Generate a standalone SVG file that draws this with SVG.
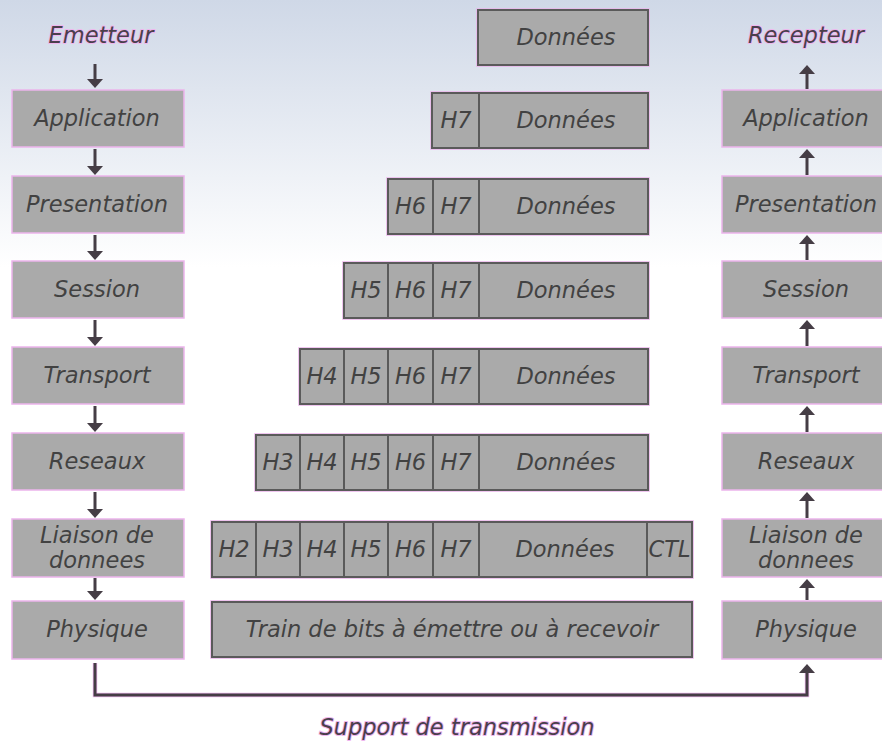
<svg xmlns="http://www.w3.org/2000/svg" width="882" height="742" viewBox="0 0 882 742">
<style>
text{font-family:"DejaVu Sans","Verdana","Liberation Sans",sans-serif;font-style:italic;font-size:22.5px;text-anchor:middle}
.lbl{fill:#424242}
.ttl{fill:#4a3f4c;stroke:#eeb6ee;stroke-width:2px;paint-order:stroke;stroke-linejoin:round}
.layer{fill:#aaaaaa;stroke:#ecb4ec;stroke-width:1.5}
.halo{fill:none;stroke:#eab2ea;stroke-width:1.5}
.cell{fill:#aaaaaa;stroke:#5a5a5a;stroke-width:2}
.arr{stroke:#453d45;stroke-width:3;fill:none}
</style>
<defs>
<linearGradient id="bg" x1="0" y1="0" x2="0" y2="1">
<stop offset="0" stop-color="#cfd8e7"/>
<stop offset="0.36" stop-color="#ffffff"/>
<stop offset="1" stop-color="#ffffff"/>
</linearGradient>
<marker id="ah" viewBox="0 0 9 16" refX="5" refY="8" markerWidth="9" markerHeight="16" markerUnits="userSpaceOnUse" orient="auto">
<path d="M0,0 L9,8 L0,16 z" fill="#453d45"/>
</marker>
</defs>
<rect x="0" y="0" width="882" height="742" fill="url(#bg)"/>

<g id="emetteur"><text class="ttl" x="101" y="43">Emetteur</text></g>
<g id="recepteur"><text class="ttl" x="806" y="43">Recepteur</text></g>
<g id="support"><text class="ttl" x="457" y="735">Support de transmission</text></g>

<!-- Left column (emitter) -->
<g id="e-application"><rect class="layer" x="12" y="90" width="172" height="57"/><text class="lbl" x="97" y="126">Application</text></g>
<g id="e-presentation"><rect class="layer" x="12" y="176" width="172" height="57"/><text class="lbl" x="97" y="212">Presentation</text></g>
<g id="e-session"><rect class="layer" x="12" y="261" width="172" height="57"/><text class="lbl" x="97" y="297">Session</text></g>
<g id="e-transport"><rect class="layer" x="12" y="347" width="172" height="57"/><text class="lbl" x="97" y="383">Transport</text></g>
<g id="e-reseaux"><rect class="layer" x="12" y="433" width="172" height="57"/><text class="lbl" x="97" y="469">Reseaux</text></g>
<g id="e-liaison"><rect class="layer" x="12" y="519" width="172" height="58"/><text class="lbl" x="97" y="543">Liaison de</text><text class="lbl" x="97" y="568">donnees</text></g>
<g id="e-physique"><rect class="layer" x="12" y="601" width="172" height="58"/><text class="lbl" x="97" y="637">Physique</text></g>

<!-- Right column (receiver) -->
<g id="r-application"><rect class="layer" x="722" y="90" width="170" height="57"/><text class="lbl" x="806" y="126">Application</text></g>
<g id="r-presentation"><rect class="layer" x="722" y="176" width="170" height="57"/><text class="lbl" x="806" y="212">Presentation</text></g>
<g id="r-session"><rect class="layer" x="722" y="261" width="170" height="57"/><text class="lbl" x="806" y="297">Session</text></g>
<g id="r-transport"><rect class="layer" x="722" y="347" width="170" height="57"/><text class="lbl" x="806" y="383">Transport</text></g>
<g id="r-reseaux"><rect class="layer" x="722" y="433" width="170" height="57"/><text class="lbl" x="806" y="469">Reseaux</text></g>
<g id="r-liaison"><rect class="layer" x="722" y="519" width="170" height="58"/><text class="lbl" x="806" y="543">Liaison de</text><text class="lbl" x="806" y="568">donnees</text></g>
<g id="r-physique"><rect class="layer" x="722" y="601" width="170" height="58"/><text class="lbl" x="806" y="637">Physique</text></g>

<!-- Middle: encapsulation -->
<g id="pdu-7data">
<rect class="halo" x="477" y="9" width="172" height="57"/>
<rect class="cell" x="478" y="10" width="170" height="55"/>
<text class="lbl" x="566" y="45">Données</text>
</g>
<g id="pdu-h7">
<rect class="halo" x="431" y="92" width="218" height="57"/>
<rect class="cell" x="432" y="93" width="47" height="55"/>
<rect class="cell" x="479" y="93" width="169" height="55"/>
<text class="lbl" x="456" y="128">H7</text><text class="lbl" x="566" y="128">Données</text>
</g>
<g id="pdu-h6">
<rect class="halo" x="387" y="178" width="262" height="57"/>
<rect class="cell" x="388" y="179" width="45" height="55"/>
<rect class="cell" x="433" y="179" width="46" height="55"/>
<rect class="cell" x="479" y="179" width="169" height="55"/>
<text class="lbl" x="410.5" y="214">H6</text><text class="lbl" x="456" y="214">H7</text><text class="lbl" x="566" y="214">Données</text>
</g>
<g id="pdu-h5">
<rect class="halo" x="343" y="262" width="306" height="57"/>
<rect class="cell" x="344" y="263" width="44" height="55"/>
<rect class="cell" x="388" y="263" width="45" height="55"/>
<rect class="cell" x="433" y="263" width="46" height="55"/>
<rect class="cell" x="479" y="263" width="169" height="55"/>
<text class="lbl" x="366" y="298">H5</text><text class="lbl" x="410.5" y="298">H6</text><text class="lbl" x="456" y="298">H7</text><text class="lbl" x="566" y="298">Données</text>
</g>
<g id="pdu-h4">
<rect class="halo" x="299" y="348" width="350" height="57"/>
<rect class="cell" x="300" y="349" width="44" height="55"/>
<rect class="cell" x="344" y="349" width="44" height="55"/>
<rect class="cell" x="388" y="349" width="45" height="55"/>
<rect class="cell" x="433" y="349" width="46" height="55"/>
<rect class="cell" x="479" y="349" width="169" height="55"/>
<text class="lbl" x="322" y="384">H4</text><text class="lbl" x="366" y="384">H5</text><text class="lbl" x="410.5" y="384">H6</text><text class="lbl" x="456" y="384">H7</text><text class="lbl" x="566" y="384">Données</text>
</g>
<g id="pdu-h3">
<rect class="halo" x="255" y="434" width="394" height="57"/>
<rect class="cell" x="256" y="435" width="44" height="55"/>
<rect class="cell" x="300" y="435" width="44" height="55"/>
<rect class="cell" x="344" y="435" width="44" height="55"/>
<rect class="cell" x="388" y="435" width="45" height="55"/>
<rect class="cell" x="433" y="435" width="46" height="55"/>
<rect class="cell" x="479" y="435" width="169" height="55"/>
<text class="lbl" x="278" y="470">H3</text><text class="lbl" x="322" y="470">H4</text><text class="lbl" x="366" y="470">H5</text><text class="lbl" x="410.5" y="470">H6</text><text class="lbl" x="456" y="470">H7</text><text class="lbl" x="566" y="470">Données</text>
</g>
<g id="pdu-h2">
<rect class="halo" x="211" y="521" width="482" height="57"/>
<rect class="cell" x="212" y="522" width="44" height="55"/>
<rect class="cell" x="256" y="522" width="44" height="55"/>
<rect class="cell" x="300" y="522" width="44" height="55"/>
<rect class="cell" x="344" y="522" width="44" height="55"/>
<rect class="cell" x="388" y="522" width="45" height="55"/>
<rect class="cell" x="433" y="522" width="46" height="55"/>
<rect class="cell" x="479" y="522" width="168" height="55"/>
<rect class="cell" x="647" y="522" width="45" height="55"/>
<text class="lbl" x="234" y="557">H2</text><text class="lbl" x="278" y="557">H3</text><text class="lbl" x="322" y="557">H4</text><text class="lbl" x="366" y="557">H5</text><text class="lbl" x="410.5" y="557">H6</text><text class="lbl" x="456" y="557">H7</text><text class="lbl" x="565" y="557">Données</text><text class="lbl" x="669.5" y="557" textLength="42" lengthAdjust="spacingAndGlyphs">CTL</text>
</g>
<g id="pdu-bits">
<rect class="halo" x="211" y="601" width="482" height="57"/>
<rect class="cell" x="212" y="602" width="480" height="55"/>
<text class="lbl" x="452" y="637">Train de bits à émettre ou à recevoir</text>
</g>

<g id="connectors">
<line class="arr" x1="95" y1="64" x2="95" y2="84" marker-end="url(#ah)"/>
<line class="arr" x1="95" y1="149" x2="95" y2="171" marker-end="url(#ah)"/>
<line class="arr" x1="95" y1="235" x2="95" y2="256" marker-end="url(#ah)"/>
<line class="arr" x1="95" y1="320" x2="95" y2="342" marker-end="url(#ah)"/>
<line class="arr" x1="95" y1="406" x2="95" y2="428" marker-end="url(#ah)"/>
<line class="arr" x1="95" y1="492" x2="95" y2="514" marker-end="url(#ah)"/>
<line class="arr" x1="95" y1="578" x2="95" y2="596" marker-end="url(#ah)"/>
<path d="M95,663 V695 H807 V668" fill="none" stroke="#eeb8ee" stroke-width="4.5"/>
<path class="arr" d="M95,663 V695 H807 V668" marker-end="url(#ah)"/>
<line class="arr" x1="807" y1="600" x2="807" y2="583" marker-end="url(#ah)"/>
<line class="arr" x1="807" y1="518" x2="807" y2="496" marker-end="url(#ah)"/>
<line class="arr" x1="807" y1="432" x2="807" y2="410" marker-end="url(#ah)"/>
<line class="arr" x1="807" y1="346" x2="807" y2="324" marker-end="url(#ah)"/>
<line class="arr" x1="807" y1="260" x2="807" y2="239" marker-end="url(#ah)"/>
<line class="arr" x1="807" y1="175" x2="807" y2="153" marker-end="url(#ah)"/>
<line class="arr" x1="807" y1="89" x2="807" y2="69" marker-end="url(#ah)"/>
</g>
</svg>
